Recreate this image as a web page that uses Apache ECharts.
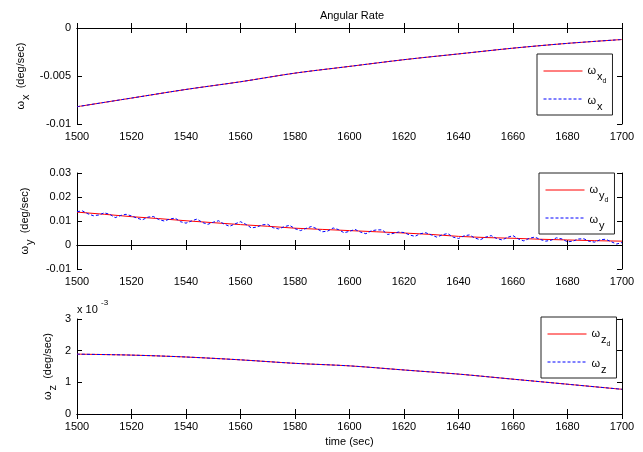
<!DOCTYPE html>
<html>
<head>
<meta charset="utf-8">
<script src="https://cdn.jsdelivr.net/npm/echarts@6/dist/echarts.min.js"></script>
<style>
html, body { margin: 0; padding: 0; background: #fff; }
#chart { width: 643px; height: 452px; }
</style>
</head>
<body>
<div id="chart"></div>
<script>
// Time stamps (sec)
const t20 = [1500, 1520, 1540, 1560, 1580, 1600, 1620, 1640, 1660, 1680, 1700];
const t10 = [1500, 1510, 1520, 1530, 1540, 1550, 1560, 1570, 1580, 1590, 1600,
             1610, 1620, 1630, 1640, 1650, 1660, 1670, 1680, 1690, 1700];
const tFineStart = 1500, tFineStep = 2;

// Roll rate: commanded and measured (deg/sec)
const wxDesired  = [-0.0082, -0.0073, -0.0064, -0.0056, -0.0047, -0.0040, -0.0033, -0.0027, -0.0021, -0.0016, -0.0012];
const wxMeasured = [-0.0082, -0.0073, -0.0064, -0.0056, -0.0047, -0.0040, -0.0033, -0.0027, -0.0021, -0.0016, -0.0012];

// Pitch rate: commanded (10 s) and noisy measurement (2 s)
const wyDesired = [0.0137, 0.0128, 0.0118, 0.0110, 0.0101, 0.0093, 0.0085, 0.0078, 0.0070, 0.0065, 0.0060,
                   0.0055, 0.0050, 0.0044, 0.0036, 0.0031, 0.0028, 0.0024, 0.0021, 0.0018, 0.0016];
const wyMeasured = [
  0.0139, 0.0142, 0.0130, 0.0122, 0.0125, 0.0134, 0.0128, 0.0114, 0.0123, 0.0128,
  0.0121, 0.0112, 0.0105, 0.0116, 0.0119, 0.0106, 0.0100, 0.0108, 0.0112, 0.0097,
  0.0091, 0.0100, 0.0108, 0.0094, 0.0086, 0.0095, 0.0101, 0.0087, 0.0078, 0.0088,
  0.0097, 0.0086, 0.0071, 0.0075, 0.0084, 0.0086, 0.0072, 0.0067, 0.0076, 0.0082,
  0.0068, 0.0060, 0.0069, 0.0077, 0.0068, 0.0055, 0.0058, 0.0071, 0.0064, 0.0051,
  0.0057, 0.0065, 0.0054, 0.0047, 0.0059, 0.0063, 0.0063, 0.0044, 0.0048, 0.0054,
  0.0052, 0.0042, 0.0036, 0.0047, 0.0051, 0.0042, 0.0033, 0.0042, 0.0048, 0.0033,
  0.0027, 0.0038, 0.0042, 0.0029, 0.0022, 0.0033, 0.0039, 0.0027, 0.0021, 0.0032,
  0.0039, 0.0025, 0.0017, 0.0028, 0.0033, 0.0023, 0.0016, 0.0020, 0.0030, 0.0025,
  0.0013, 0.0016, 0.0025, 0.0026, 0.0015, 0.0012, 0.0022, 0.0024, 0.0014, 0.0004,
  0.0010
];

// Yaw rate: commanded and measured (deg/sec)
const wzDesired  = [0.00189, 0.00186, 0.00180, 0.00171, 0.00160, 0.00152, 0.00139, 0.00126, 0.00110, 0.00094, 0.00078];
const wzMeasured = [0.00189, 0.00186, 0.00180, 0.00171, 0.00160, 0.00152, 0.00139, 0.00126, 0.00110, 0.00094, 0.00078];

const FONT = 'Liberation Sans, Arial, sans-serif';

function pairs(ts, vs) { return vs.map((v, i) => [ts[i], v]); }
function finePairs(vs) { return vs.map((v, i) => [tFineStart + i * tFineStep, v]); }

const PLOT_LEFT = 77, PLOT_WIDTH = 545;
const grids = [
  { left: PLOT_LEFT, top: 28,  width: PLOT_WIDTH, height: 96 },
  { left: PLOT_LEFT, top: 173, width: PLOT_WIDTH, height: 96 },
  { left: PLOT_LEFT, top: 319, width: PLOT_WIDTH, height: 95 }
];

const lineBlack = { lineStyle: { color: '#000', width: 1 } };
const tickIn = { show: true, inside: true, length: 5, lineStyle: { color: '#000', width: 1 } };
const labelFont = { fontFamily: FONT, fontSize: 11, color: '#000' };

function trimNum(v) { return String(Number(v.toFixed(6))); }

function xAxesFor(g, withName) {
  const bottom = {
    type: 'value', gridIndex: g, position: 'bottom', min: 1500, max: 1700, interval: 20,
    axisLine: lineBlack, axisTick: tickIn, splitLine: { show: false },
    axisLabel: Object.assign({ margin: 7, formatter: v => String(v), showMinLabel: true, showMaxLabel: true }, labelFont)
  };
  if (withName) {
    Object.assign(bottom, {
      name: 'time (sec)', nameLocation: 'middle', nameGap: 22,
      nameTextStyle: { fontFamily: FONT, fontSize: 11, color: '#000' }
    });
  }
  const top = {
    type: 'value', gridIndex: g, position: 'top', min: 1500, max: 1700, interval: 20,
    axisLine: lineBlack, axisTick: tickIn, axisLabel: { show: false }, splitLine: { show: false }
  };
  return [bottom, top];
}

const nameRich = {
  w: { fontFamily: FONT, fontSize: 11, lineHeight: 13, color: '#000', verticalAlign: 'top' },
  s: { fontFamily: FONT, fontSize: 11, lineHeight: 13, color: '#000', verticalAlign: 'top', padding: [5, 0, 0, 1] }
};

function yAxesFor(g, min, max, interval, sub, gap, fmt) {
  const left = {
    type: 'value', gridIndex: g, position: 'left', min: min, max: max, interval: interval,
    axisLine: lineBlack, axisTick: tickIn, splitLine: { show: false },
    axisLabel: Object.assign({ margin: 6, formatter: fmt, showMinLabel: true, showMaxLabel: true }, labelFont),
    name: '{w|ω}{s|' + sub + '}{w|  (deg/sec)}', nameLocation: 'middle', nameRotate: 90, nameGap: gap,
    nameMoveOverlap: false,
    nameTextStyle: { rich: nameRich }
  };
  const right = {
    type: 'value', gridIndex: g, position: 'right', min: min, max: max, interval: interval,
    axisLine: lineBlack, axisTick: tickIn, axisLabel: { show: false }, splitLine: { show: false }
  };
  return [left, right];
}

const xAxis = [].concat(xAxesFor(0, false), xAxesFor(1, false), xAxesFor(2, true));
const yAxis = [].concat(
  yAxesFor(0, -0.01, 0, 0.005, 'x', 49, trimNum),
  yAxesFor(1, -0.01, 0.03, 0.01, 'y', 45, trimNum),
  yAxesFor(2, 0, 0.003, 0.001, 'z', 22, v => String(Math.round(v * 1000)))
);

const RED = '#ff0000', BLUE = '#0000ff';
function desiredSeries(name, g, data, smooth) {
  return {
    type: 'line', name: name, xAxisIndex: 2 * g, yAxisIndex: 2 * g, data: data,
    symbol: 'none', showSymbol: false, smooth: smooth, z: 2, silent: true,
    lineStyle: { color: RED, width: 1 }, itemStyle: { color: RED }
  };
}
function measuredSeries(name, g, data, smooth) {
  return {
    type: 'line', name: name, xAxisIndex: 2 * g, yAxisIndex: 2 * g, data: data,
    symbol: 'none', showSymbol: false, smooth: smooth, z: 3, silent: true,
    lineStyle: { color: BLUE, width: 1, type: [3, 2] }, itemStyle: { color: BLUE }
  };
}

const series = [
  desiredSeries('wxd', 0, pairs(t20, wxDesired), 0.3),
  measuredSeries('wx', 0, pairs(t20, wxMeasured), 0.3),
  desiredSeries('wyd', 1, pairs(t10, wyDesired), false),
  measuredSeries('wy', 1, finePairs(wyMeasured), false),
  desiredSeries('wzd', 2, pairs(t20, wzDesired), 0.3),
  measuredSeries('wz', 2, pairs(t20, wzMeasured), 0.3)
];

// Legend labels: omega with subscript axis letter, plus a second-level "d" for the commanded rate
const legendText = {
  wxd: '{w|ω}{s|x}{d|d}', wx: '{w2|ω}{s2|x}',
  wyd: '{w|ω}{s|y}{d|d}', wy: '{w2|ω}{s2|y}',
  wzd: '{w|ω}{s|z}{d|d}', wz: '{w2|ω}{s2|z}'
};
const legendRich = {
  w:  { fontFamily: FONT, fontSize: 11, lineHeight: 14, color: '#000', verticalAlign: 'top', padding: [1, 0, 0, 0] },
  s:  { fontFamily: FONT, fontSize: 11, lineHeight: 14, color: '#000', verticalAlign: 'top', padding: [7, 0, 0, 1] },
  d:  { fontFamily: FONT, fontSize: 7,  lineHeight: 10, color: '#000', verticalAlign: 'top', padding: [14, 0, 0, 0] },
  w2: { fontFamily: FONT, fontSize: 11, lineHeight: 14, color: '#000', verticalAlign: 'top', padding: [3, 0, 0, 0] },
  s2: { fontFamily: FONT, fontSize: 11, lineHeight: 14, color: '#000', verticalAlign: 'top', padding: [9, 0, 0, 1] }
};
function legendFor(names, left, top) {
  return {
    data: names, orient: 'vertical', left: left, top: top,
    itemWidth: 39, itemHeight: 10, itemGap: 7, padding: [10, 6, 3, 6],
    backgroundColor: '#fff', borderColor: '#222', borderWidth: 1, borderRadius: 0,
    selectedMode: false,
    itemStyle: { opacity: 0 },
    lineStyle: { width: 1 },
    formatter: n => legendText[n],
    textStyle: { rich: legendRich }
  };
}

const option = {
  animation: false,
  backgroundColor: '#fff',
  title: {
    text: 'Angular Rate', left: 347, top: 5, textAlign: 'center',
    textStyle: { fontFamily: FONT, fontSize: 11, fontWeight: 'normal', color: '#000' }
  },
  grid: grids,
  xAxis: xAxis,
  yAxis: yAxis,
  legend: [
    legendFor(['wxd', 'wx'], 537, 54),
    legendFor(['wyd', 'wy'], 539, 173),
    legendFor(['wzd', 'wz'], 541, 317)
  ],
  graphic: [
    { type: 'text', left: 77, top: 304, silent: true,
      style: { text: 'x 10', fontFamily: FONT, fontSize: 11, fill: '#000' } },
    { type: 'text', left: 101, top: 299, silent: true,
      style: { text: '-3', fontFamily: FONT, fontSize: 8, fill: '#000' } }
  ],
  series: series
};

const chart = echarts.init(document.getElementById('chart'), null, { renderer: 'canvas' });
chart.setOption(option);
</script>
</body>
</html>
